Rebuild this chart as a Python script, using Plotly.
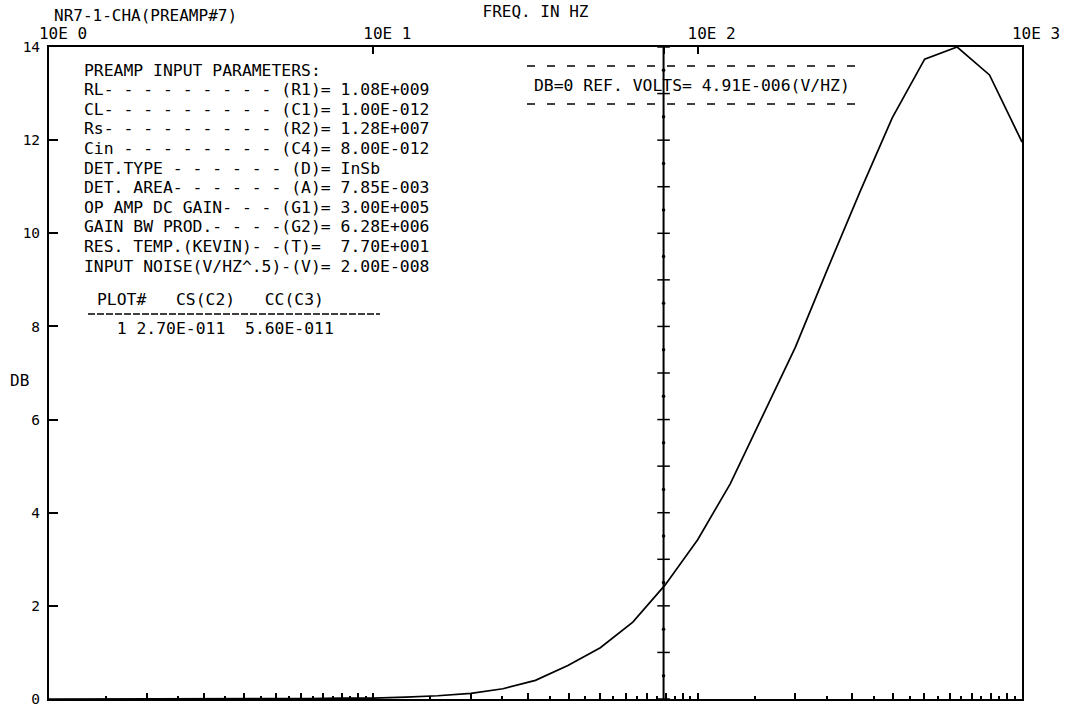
import plotly.graph_objects as go

# ---------------- data ----------------
freq_hz = [1, 1.26, 1.58, 2.0, 2.51, 3.16, 3.98, 5.01, 6.31, 7.94,
           10, 12.6, 15.8, 20.0, 25.1, 31.6, 39.8, 50.1, 63.1, 79.4,
           100, 126, 158, 200, 251, 316, 398, 501, 631, 794, 1000]
gain_db = [0.00, 0.00, 0.00, 0.00, 0.00, 0.01, 0.01, 0.01, 0.01, 0.02,
           0.02, 0.04, 0.07, 0.12, 0.22, 0.40, 0.72, 1.10, 1.65, 2.45,
           3.42, 4.62, 6.05, 7.55, 9.22, 10.88, 12.48, 13.74, 14.00, 13.40, 11.96]

marker_freq = 78.5                       # vertical reference line (Hz)
marker_major_db = [0, 1, 2, 3, 4, 5, 6, 7, 8, 9, 10, 11, 12, 13, 14]
marker_minor_db = [0.5, 1.5, 2.5, 3.5, 4.5, 5.5, 6.5, 7.5, 8.5, 9.5,
                   10.5, 11.5, 12.5, 13.5]

y_ticks = [0, 2, 4, 6, 8, 10, 12, 14]
decade_vals = [1, 10, marker_freq, 100, 1000]
decade_text = ["10E 0", "10E 1", "", "10E 2", "10E 3"]

x_major_ticks = [2, 3, 4, 5, 6, 7, 8, 9, 10,
                 20, 30, 40, 50, 60, 70, 80, 90, 100,
                 200, 300, 400, 500, 600, 700, 800, 900]
x_minor_ticks = [1.5, 2.5, 3.5, 4.5, 5.5, 6.5, 7.5, 8.5, 9.5,
                 15, 25, 35, 45, 55, 65, 75, 85, 95,
                 150, 250, 350, 450, 550, 650, 750, 850, 950]

chart_id = "NR7-1-CHA(PREAMP#7)"
x_title = "FREQ. IN HZ"
y_title = "DB"
param_lines = [
    "PREAMP INPUT PARAMETERS:",
    "RL- - - - - - - - - (R1)= 1.08E+009",
    "CL- - - - - - - - - (C1)= 1.00E-012",
    "Rs- - - - - - - - - (R2)= 1.28E+007",
    "Cin - - - - - - - - (C4)= 8.00E-012",
    "DET.TYPE - - - - - - (D)= InSb",
    "DET. AREA- - - - - - (A)= 7.85E-003",
    "OP AMP DC GAIN- - - (G1)= 3.00E+005",
    "GAIN BW PROD.- - - -(G2)= 6.28E+006",
    "RES. TEMP.(KEVIN)- -(T)=  7.70E+001",
    "INPUT NOISE(V/HZ^.5)-(V)= 2.00E-008",
]
table_header = "PLOT#   CS(C2)   CC(C3)"
table_row = "  1 2.70E-011  5.60E-011"
ref_text = "DB=0 REF. VOLTS= 4.91E-006(V/HZ)"

# ---------------- layout helpers (pixel -> paper) ----------------
W, H = 1067, 706
ML, MR, MT, MB = 49, 45, 47, 7
PW, PH = W - ML - MR, H - MT - MB


def px(x):
    return (x - ML) / PW


def py(y):
    return (H - MB - y) / PH


FONT = "DejaVu Sans Mono"
fig = go.Figure()

# response curve
fig.add_trace(go.Scatter(x=freq_hz, y=gain_db, mode="lines",
                         line=dict(color="black", width=1.7),
                         hoverinfo="skip"))

# vertical reference line with its own ticks
fig.add_trace(go.Scatter(x=[marker_freq, marker_freq],
                         y=[marker_major_db[0], marker_major_db[-1]],
                         xaxis="x2", mode="lines",
                         line=dict(color="black", width=2), hoverinfo="skip"))
fig.add_trace(go.Scatter(x=[marker_freq] * len(marker_major_db), y=marker_major_db,
                         xaxis="x2", mode="markers",
                         marker=dict(symbol="line-ew", size=9,
                                     line=dict(color="black", width=1.5)),
                         hoverinfo="skip"))
fig.add_trace(go.Scatter(x=[marker_freq] * len(marker_minor_db), y=marker_minor_db,
                         xaxis="x2", mode="markers",
                         marker=dict(symbol="circle", size=3.5, color="black"),
                         hoverinfo="skip"))

annotations = []
annotations.append(dict(text=chart_id, x=px(52), y=py(15), xref="paper", yref="paper",
                        xanchor="left", yanchor="middle", showarrow=False,
                        font=dict(family=FONT, size=16, color="black")))
annotations.append(dict(text=y_title, x=px(8), y=py(380), xref="paper", yref="paper",
                        xanchor="left", yanchor="middle", showarrow=False,
                        font=dict(family=FONT, size=16, color="black")))
for i, line in enumerate(param_lines):
    annotations.append(dict(text=line.replace(" ", "\u00a0"), x=px(82), y=py(70 + 19.6 * i),
                            xref="paper", yref="paper", xanchor="left",
                            yanchor="middle", showarrow=False,
                            font=dict(family=FONT, size=16.4, color="black")))
annotations.append(dict(text=table_header.replace(" ", "\u00a0"), x=px(95), y=py(299),
                        xref="paper", yref="paper", xanchor="left", yanchor="middle",
                        showarrow=False, font=dict(family=FONT, size=16.4, color="black")))
annotations.append(dict(text=table_row.replace(" ", "\u00a0"), x=px(95), y=py(329),
                        xref="paper", yref="paper", xanchor="left", yanchor="middle",
                        showarrow=False, font=dict(family=FONT, size=16.4, color="black")))
annotations.append(dict(text=ref_text.replace(" ", "\u00a0"), x=px(532), y=py(85),
                        xref="paper", yref="paper", xanchor="left", yanchor="middle",
                        showarrow=False, font=dict(family=FONT, size=16.4, color="black")))

shapes = [
    dict(type="line", xref="paper", yref="paper", x0=px(88), x1=px(380),
         y0=py(314), y1=py(314), line=dict(color="black", width=1.3, dash="7px,2px")),
    dict(type="line", xref="paper", yref="paper", x0=px(527), x1=px(855),
         y0=py(66), y1=py(66), line=dict(color="black", width=1.5, dash="8px,12px")),
    dict(type="line", xref="paper", yref="paper", x0=px(527), x1=px(855),
         y0=py(104), y1=py(104), line=dict(color="black", width=1.5, dash="8px,12px")),
]

fig.update_layout(
    width=W, height=H,
    margin=dict(l=ML, r=MR, t=MT, b=MB, autoexpand=False),
    paper_bgcolor="white", plot_bgcolor="white",
    showlegend=False,
    font=dict(family=FONT, size=16, color="black"),
    annotations=annotations, shapes=shapes,
    xaxis=dict(type="log", range=[0, 3], showgrid=False, zeroline=False,
               showline=True, linecolor="black", linewidth=2, automargin=False,
               ticks="inside", tickvals=x_major_ticks, ticklen=6, tickwidth=1.5,
               tickcolor="black", showticklabels=False,
               minor=dict(tickvals=x_minor_ticks, ticks="inside", ticklen=3,
                          tickwidth=1.5, tickcolor="black", showgrid=False)),
    xaxis2=dict(type="log", range=[0, 3], overlaying="x", side="top",
                showgrid=False, zeroline=False, showline=True, linecolor="black",
                linewidth=2, ticks="inside", tickvals=decade_vals, ticktext=decade_text,
                ticklen=7, tickwidth=1.5, tickcolor="black", automargin=False,
                tickfont=dict(family=FONT, size=16, color="black"),
                ticklabelshift=14, ticklabelstandoff=0, ticklabeloverflow="allow",
                title=dict(text=x_title, standoff=2,
                           font=dict(family=FONT, size=16, color="black"))),
    yaxis=dict(range=[0, 14], tickvals=y_ticks, showgrid=False, zeroline=False,
               showline=True, linecolor="black", linewidth=2, mirror=True,
               ticks="inside", ticklen=9, tickwidth=1.5, tickcolor="black",
               automargin=False,
               tickfont=dict(family=FONT, size=14.5, color="black"),
               ticklabelstandoff=4, ticklabeloverflow="allow"),
)

fig.write_html("out.html",
               config={"displayModeBar": False},
               post_script="document.body.style.margin='0';document.body.style.overflow='hidden';")
